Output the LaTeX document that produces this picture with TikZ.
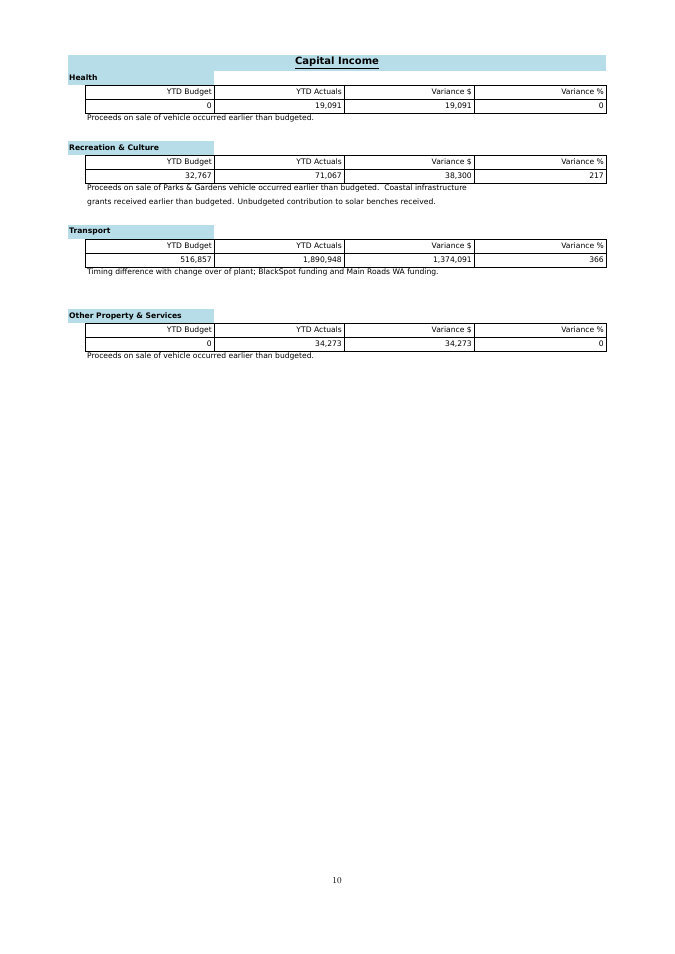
\documentclass[tikz,border=0pt]{standalone}
\usepackage{fontspec}
\setmainfont{DejaVu Sans}
\usetikzlibrary{positioning}
\definecolor{band}{RGB}{183,221,232}
\tikzset{
  bandbox/.style={fill=band,draw=none,inner sep=0pt},
  cellbox/.style={draw=black,line width=0.7pt,inner sep=0pt},
  cell/.style={anchor=east,inner sep=2pt,font=\fontsize{7.6}{9}\selectfont},
  head/.style={anchor=west,inner sep=1pt,font=\fontsize{7.6}{9}\selectfont\bfseries},
  note/.style={anchor=north west,inner sep=0pt,align=left,font=\fontsize{7.6}{14}\selectfont}
}
% one section: #1 top of band, #2 heading, #3-#6 values
\newcommand{\capsect}[6]{%
  \fill[band] (68,#1) rectangle (214,#1+14);
  \node[head] (h#1) at (68,#1+7) {#2};
  \foreach \xa/\xb [count=\c] in {85/214,214/344,344/474,474/606}{
    \draw[cellbox] (\xa,#1+14) rectangle (\xb,#1+28);
    \draw[cellbox] (\xa,#1+28) rectangle (\xb,#1+42);
  }
  \node[cell] (c#1-1) at (214,#1+21) {YTD Budget};
  \node[cell] (c#1-2) at (344,#1+21) {YTD Actuals};
  \node[cell] (c#1-3) at (474,#1+21) {Variance \$};
  \node[cell] (c#1-4) at (606,#1+21) {Variance \%};
  \node[cell] (v#1-1) at (214,#1+35) {#3};
  \node[cell] (v#1-2) at (344,#1+35) {#4};
  \node[cell] (v#1-3) at (474,#1+35) {#5};
  \node[cell] (v#1-4) at (606,#1+35) {#6};
}
\begin{document}
\begin{tikzpicture}[x=1pt,y=-1pt]
  \useasboundingbox (0,0) rectangle (675,954);
  \fill[band] (68,55) rectangle (606,71);
  \node[font=\fontsize{10}{12}\selectfont\bfseries] (title) at (337,63) {\underline{Capital Income}};
  \capsect{71}{Health}{0}{19,091}{19,091}{0}
  \node[note] (n1) at (87,115) {Proceeds on sale of vehicle occurred earlier than budgeted.};
  \capsect{141}{Recreation \& Culture}{32,767}{71,067}{38,300}{217}
  \node[note] (n2) at (87,185) {Proceeds on sale of Parks \& Gardens vehicle occurred earlier than budgeted.\ \ Coastal infrastructure\\grants received earlier than budgeted. Unbudgeted contribution to solar benches received.};
  \capsect{225}{Transport}{516,857}{1,890,948}{1,374,091}{366}
  \node[note] (n3) at (87,269) {Timing difference with change over of plant; BlackSpot funding and Main Roads WA funding.};
  \capsect{309}{Other Property \& Services}{0}{34,273}{34,273}{0}
  \node[note] (n4) at (87,353) {Proceeds on sale of vehicle occurred earlier than budgeted.};
  \node[font=\fontfamily{lmr}\fontsize{9}{11}\selectfont] (page) at (337,881) {10};
\end{tikzpicture}
\end{document}
